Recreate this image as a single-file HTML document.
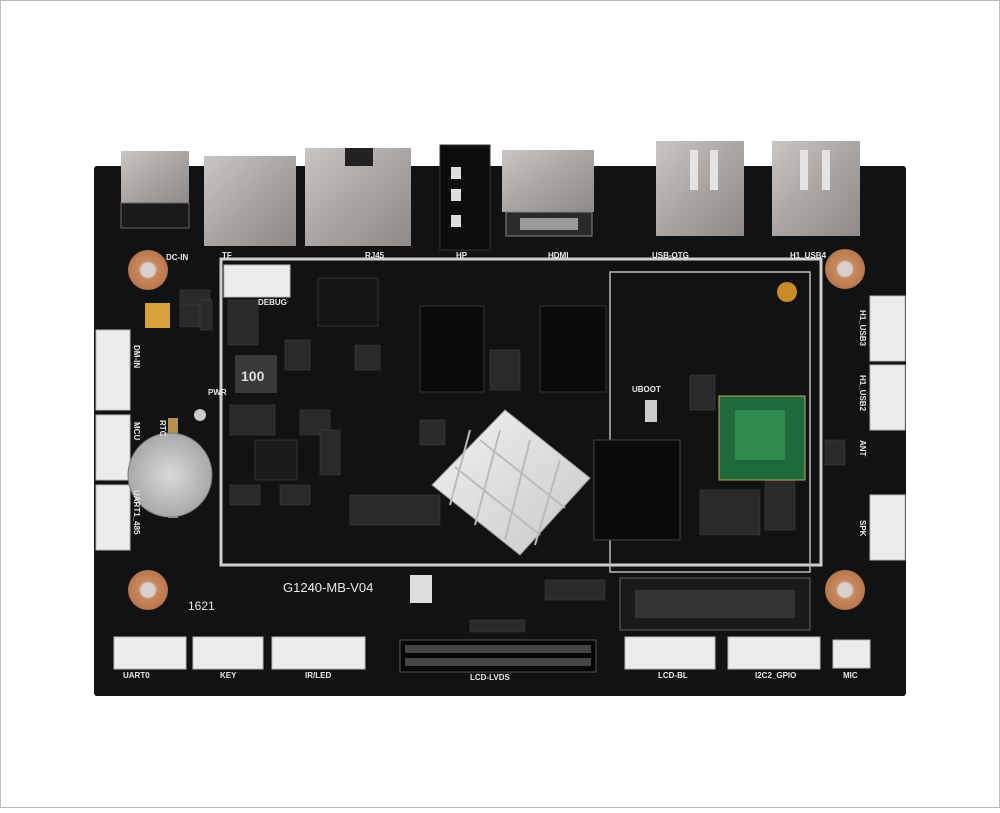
<!DOCTYPE html>
<html><head><meta charset="utf-8"><style>
html,body{margin:0;padding:0;background:#fff}
body{width:1000px;height:808px;overflow:hidden;position:relative}
svg text{font-family:"Liberation Sans",sans-serif;fill:#e8e8e8;font-weight:bold}
</style></head><body>
<svg width="1000" height="808" viewBox="0 0 1000 808" xmlns="http://www.w3.org/2000/svg">
<defs>
<linearGradient id="met" x1="0" y1="0" x2="1" y2="1"><stop offset="0" stop-color="#c9c6c4"/><stop offset="0.5" stop-color="#a9a5a2"/><stop offset="1" stop-color="#8e8a88"/></linearGradient>
<linearGradient id="hs" x1="0" y1="0" x2="1" y2="1"><stop offset="0" stop-color="#f2f2f2"/><stop offset="1" stop-color="#c8c8cc"/></linearGradient>
<radialGradient id="cu"><stop offset="0.35" stop-color="#d8d0cc"/><stop offset="0.45" stop-color="#c98a60"/><stop offset="1" stop-color="#b8764c"/></radialGradient>
<radialGradient id="coin"><stop offset="0" stop-color="#d9d9d9"/><stop offset="1" stop-color="#a9a9a9"/></radialGradient>
</defs>
<rect x="0.5" y="0.5" width="999" height="807" fill="#fff" stroke="#bbb"/>
<rect x="94" y="166" width="812" height="530" rx="3" fill="#111214"/>
<rect x="221" y="259" width="600" height="306" fill="none" stroke="#cfcfcf" stroke-width="3"/>
<rect x="610" y="272" width="200" height="300" fill="none" stroke="#bbb" stroke-width="1.5"/>
<!-- small components texture -->
<g fill="#2a2a2a" stroke="#444" stroke-width="0.5">
<rect x="180" y="290" width="30" height="20"/><rect x="180" y="305" width="30" height="22"/>
<rect x="228" y="300" width="30" height="45"/><rect x="285" y="340" width="25" height="30"/>
<rect x="230" y="405" width="45" height="30"/><rect x="300" y="410" width="30" height="25"/>
<rect x="230" y="485" width="30" height="20"/><rect x="280" y="485" width="30" height="20"/>
<rect x="320" y="430" width="20" height="45"/><rect x="350" y="495" width="90" height="30"/>
<rect x="355" y="345" width="25" height="25"/><rect x="490" y="350" width="30" height="40"/>
<rect x="690" y="375" width="25" height="35"/><rect x="700" y="490" width="60" height="45"/>
<rect x="765" y="480" width="30" height="50"/><rect x="825" y="440" width="20" height="25"/>
<rect x="545" y="580" width="60" height="20"/><rect x="470" y="620" width="55" height="12"/>
<rect x="420" y="420" width="25" height="25"/><rect x="200" y="300" width="12" height="30"/>
</g>
<rect x="145" y="303" width="25" height="25" fill="#d6a03a"/>
<!-- top connectors -->
<rect x="121" y="151" width="68" height="52" fill="url(#met)"/>
<rect x="121" y="203" width="68" height="25" fill="#1a1a1a" stroke="#666"/>
<rect x="204" y="156" width="92" height="90" fill="url(#met)"/>
<rect x="305" y="148" width="106" height="98" fill="url(#met)"/>
<rect x="345" y="148" width="28" height="18" fill="#222"/>
<rect x="440" y="145" width="50" height="105" fill="#0c0c0c" stroke="#333"/>
<rect x="451" y="167" width="10" height="12" fill="#ddd"/><rect x="451" y="189" width="10" height="12" fill="#ddd"/><rect x="451" y="215" width="10" height="12" fill="#ddd"/>
<rect x="502" y="150" width="92" height="62" fill="url(#met)"/>
<rect x="506" y="212" width="86" height="24" fill="#2a2a2a" stroke="#888"/>
<rect x="520" y="218" width="58" height="12" fill="#9a9a9a"/>
<rect x="656" y="141" width="88" height="95" fill="url(#met)"/>
<rect x="690" y="150" width="8" height="40" fill="#e4e4e4"/><rect x="710" y="150" width="8" height="40" fill="#e4e4e4"/>
<rect x="772" y="141" width="88" height="95" fill="url(#met)"/>
<rect x="800" y="150" width="8" height="40" fill="#e4e4e4"/><rect x="822" y="150" width="8" height="40" fill="#e4e4e4"/>
<circle cx="148" cy="270" r="20" fill="url(#cu)"/>
<circle cx="845" cy="269" r="20" fill="url(#cu)"/>
<circle cx="148" cy="590" r="20" fill="url(#cu)"/>
<circle cx="845" cy="590" r="20" fill="url(#cu)"/>
<g fill="#ececea" stroke="#bbb">
<rect x="224" y="265" width="66" height="32"/>
<rect x="96" y="330" width="34" height="80"/>
<rect x="96" y="415" width="34" height="65"/>
<rect x="96" y="485" width="34" height="65"/>
<rect x="870" y="296" width="35" height="65"/>
<rect x="870" y="365" width="35" height="65"/>
<rect x="870" y="495" width="35" height="65"/>
<rect x="114" y="637" width="72" height="32"/>
<rect x="193" y="637" width="70" height="32"/>
<rect x="272" y="637" width="93" height="32"/>
<rect x="625" y="637" width="90" height="32"/>
<rect x="728" y="637" width="92" height="32"/>
<rect x="833" y="640" width="37" height="28"/>
</g>
<rect x="400" y="640" width="196" height="32" fill="#050505" stroke="#555"/>
<g fill="#444"><rect x="405" y="645" width="186" height="8"/><rect x="405" y="658" width="186" height="8"/></g>
<rect x="420" y="306" width="64" height="86" fill="#0a0a0a" stroke="#333"/>
<rect x="540" y="306" width="66" height="86" fill="#0a0a0a" stroke="#333"/>
<rect x="594" y="440" width="86" height="100" fill="#0a0a0a" stroke="#444"/>
<rect x="318" y="278" width="60" height="48" fill="#151515" stroke="#333"/>
<rect x="235" y="355" width="42" height="38" fill="#3a3a3a"/>
<text x="241" y="381" font-size="14" style="fill:#ddd">100</text>
<rect x="255" y="440" width="42" height="40" fill="#1a1a1a" stroke="#333"/>
<rect x="620" y="578" width="190" height="52" fill="#1a1a1a" stroke="#666"/>
<rect x="635" y="590" width="160" height="28" fill="#333"/>
<rect x="719" y="396" width="86" height="84" fill="#1f6a3a" stroke="#c8a060"/>
<rect x="735" y="410" width="50" height="50" fill="#2f8a50"/>
<rect x="168" y="418" width="10" height="100" fill="#b89050"/>
<circle cx="170" cy="475" r="42" fill="url(#coin)" stroke="#777"/>
<polygon points="505,410 590,478 520,555 432,485" fill="url(#hs)" stroke="#999"/>
<g stroke="#bbb" stroke-width="2">
<line x1="455" y1="467" x2="540" y2="535"/><line x1="480" y1="440" x2="565" y2="508"/>
<line x1="470" y1="430" x2="450" y2="505"/><line x1="500" y1="430" x2="475" y2="525"/><line x1="530" y1="440" x2="505" y2="540"/><line x1="560" y1="460" x2="535" y2="545"/>
</g>
<circle cx="787" cy="292" r="10" fill="#c98a2a"/>
<circle cx="200" cy="415" r="6" fill="#ccc"/>
<rect x="645" y="400" width="12" height="22" fill="#ccc"/>
<rect x="410" y="575" width="22" height="28" fill="#ddd"/>
<g font-size="8">
<text x="166" y="260">DC-IN</text><text x="222" y="258">TF</text><text x="365" y="258">RJ45</text>
<text x="456" y="258">HP</text><text x="548" y="258">HDMI</text><text x="652" y="258">USB-OTG</text>
<text x="790" y="258">H1_USB4</text><text x="258" y="305">DEBUG</text><text x="208" y="395">PWR</text>
<text x="632" y="392">UBOOT</text>
<text x="123" y="678">UART0</text><text x="220" y="678">KEY</text><text x="305" y="678">IR/LED</text>
<text x="470" y="680">LCD-LVDS</text><text x="658" y="678">LCD-BL</text><text x="755" y="678">I2C2_GPIO</text>
<text x="843" y="678">MIC</text>
<text transform="translate(134,345) rotate(90)">DM-IN</text>
<text transform="translate(134,422) rotate(90)">MCU</text>
<text transform="translate(134,490) rotate(90)">UART1_485</text>
<text transform="translate(860,310) rotate(90)">H1_USB3</text>
<text transform="translate(860,375) rotate(90)">H1_USB2</text>
<text transform="translate(860,440) rotate(90)">ANT</text>
<text transform="translate(860,520) rotate(90)">SPK</text>
<text transform="translate(160,420) rotate(90)">RTC</text>
</g>
<text x="283" y="592" font-size="13" style="font-weight:normal">G1240-MB-V04</text>
<text x="188" y="610" font-size="12" style="font-weight:normal">1621</text>
</svg>
</body></html>
